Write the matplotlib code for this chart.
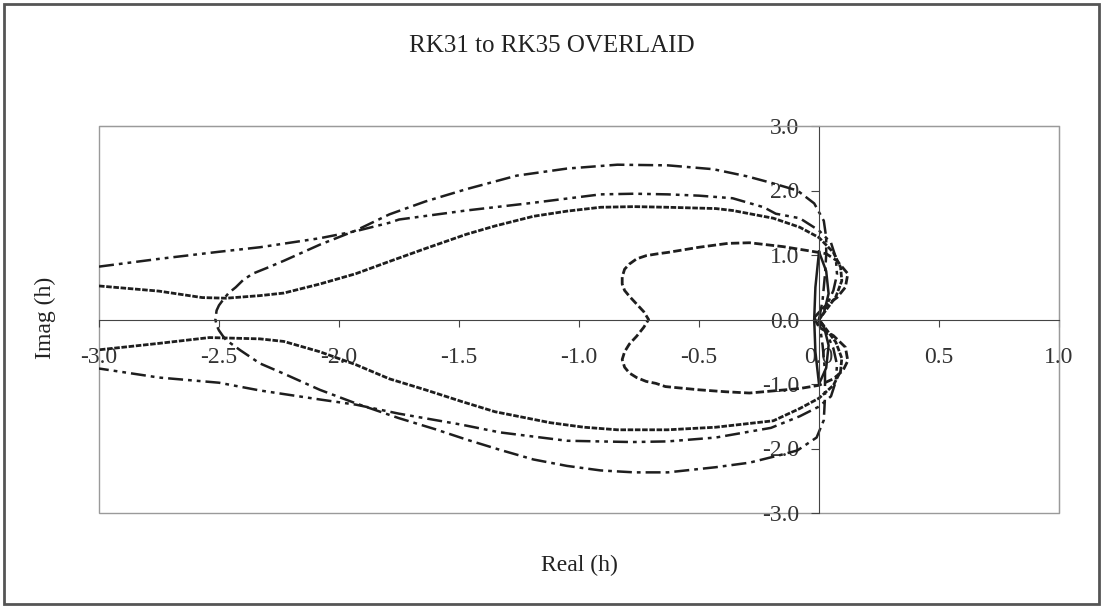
import matplotlib.pyplot as plt
from matplotlib.patches import Rectangle

plt.rcParams['font.family'] = ['Liberation Serif', 'DejaVu Serif']

# stability boundaries (real, imag)
rk31_re = [0.0, 0.015, 0.025, 0.03, 0.03, 0.02, -0.02, -0.09, -0.2, -0.3, -0.44, -0.63, -0.84, -1.05,
           -1.26, -1.47, -1.64, -1.79, -1.93, -2.08, -2.23, -2.30, -2.36, -2.40, -2.43, -2.46,
           -2.48, -2.50, -2.51, -2.515, -2.51, -2.50, -2.485, -2.47, -2.44, -2.41, -2.37, -2.33,
           -2.23, -2.08, -1.93, -1.75, -1.6, -1.47, -1.33, -1.19, -1.05, -0.91, -0.77, -0.63,
           -0.43, -0.29, -0.16, -0.09, -0.01, 0.02, 0.025, 0.025, 0.015, 0.0]
rk31_im = [0.0, 0.3, 0.7, 1.0, 1.27, 1.53, 1.80, 2.0, 2.12, 2.22, 2.33, 2.39, 2.40, 2.34,
           2.23, 2.02, 1.83, 1.63, 1.38, 1.16, 0.91, 0.80, 0.71, 0.61, 0.50, 0.41,
           0.32, 0.22, 0.14, 0.0, -0.09, -0.17, -0.25, -0.32, -0.40, -0.48, -0.58, -0.68,
           -0.84, -1.09, -1.30, -1.53, -1.70, -1.86, -2.02, -2.17, -2.27, -2.34, -2.37, -2.37,
           -2.29, -2.22, -2.10, -2.03, -1.83, -1.56, -1.2, -0.8, -0.4, 0.0]

rk32_re = [-3.0, -2.75, -2.5, -2.33, -2.08, -1.93, -1.79, -1.75, -1.47, -1.19, -0.91, -0.77, -0.63,
           -0.5, -0.36, -0.23, -0.18, -0.08, 0.0, 0.05, 0.07, 0.075, 0.06, 0.03, 0.0,
           0.03, 0.06, 0.075, 0.07, 0.05, 0.0, -0.08, -0.2, -0.43, -0.63, -0.78, -1.05, -1.33,
           -1.49, -1.75, -1.93, -2.08, -2.33, -2.5, -2.75, -3.0]
rk32_im = [0.82, 0.94, 1.05, 1.12, 1.26, 1.37, 1.50, 1.55, 1.69, 1.81, 1.94, 1.95, 1.94,
           1.92, 1.88, 1.74, 1.64, 1.57, 1.38, 1.19, 0.96, 0.7, 0.45, 0.2, 0.0,
           -0.2, -0.45, -0.7, -0.96, -1.19, -1.35, -1.50, -1.68, -1.83, -1.89, -1.90, -1.88, -1.75,
           -1.63, -1.46, -1.32, -1.24, -1.10, -0.98, -0.90, -0.76]

rk33_re = [-3.0, -2.75, -2.57, -2.47, -2.33, -2.23, -2.08, -1.93, -1.79, -1.64, -1.47, -1.35, -1.19,
           -1.05, -0.91, -0.77, -0.63, -0.43, -0.36, -0.19, -0.08, 0.0, 0.06, 0.09, 0.095, 0.07,
           0.03, 0.0, 0.03, 0.07, 0.095, 0.09, 0.06, 0.0, -0.08, -0.19, -0.43, -0.63, -0.84,
           -0.98, -1.12, -1.35, -1.49, -1.64, -1.79, -1.93, -2.08, -2.23, -2.33, -2.54, -2.75, -3.0]
rk33_im = [0.52, 0.44, 0.34, 0.33, 0.37, 0.41, 0.55, 0.71, 0.90, 1.10, 1.32, 1.45, 1.60,
           1.68, 1.74, 1.75, 1.74, 1.72, 1.69, 1.57, 1.43, 1.27, 1.04, 0.81, 0.6, 0.35,
           0.15, 0.0, -0.15, -0.35, -0.6, -0.8, -1.02, -1.22, -1.38, -1.57, -1.67, -1.71, -1.71,
           -1.67, -1.60, -1.43, -1.27, -1.09, -0.92, -0.70, -0.50, -0.34, -0.30, -0.28, -0.37, -0.47]

rk34_re = [-0.02, 0.02, 0.075, 0.11, 0.12, 0.075, 0.03, -0.05, -0.15, -0.29, -0.38, -0.5, -0.63,
           -0.67, -0.72, -0.76, -0.79, -0.81, -0.82, -0.82, -0.81, -0.79, -0.76, -0.73, -0.71,
           -0.73, -0.76, -0.79, -0.81, -0.82, -0.81, -0.79, -0.76, -0.72, -0.68, -0.64, -0.5,
           -0.39, -0.29, -0.08, 0.0, 0.06, 0.10, 0.12, 0.11, 0.06, 0.0, -0.02]
rk34_im = [0.03, 0.19, 0.34, 0.5, 0.71, 0.91, 1.02, 1.07, 1.13, 1.19, 1.18, 1.12, 1.04,
           1.02, 0.99, 0.94, 0.86, 0.78, 0.66, 0.55, 0.45, 0.36, 0.24, 0.12, 0.0,
           -0.12, -0.26, -0.38, -0.50, -0.62, -0.74, -0.83, -0.90, -0.96, -0.99, -1.04, -1.09,
           -1.12, -1.14, -1.07, -1.02, -0.92, -0.79, -0.64, -0.43, -0.25, -0.12, 0.03]

rk35_re = [0.0, -0.015, -0.02, -0.015, 0.0, 0.03, 0.04, 0.02, 0.0, 0.02, 0.04, 0.03, 0.0]
rk35_im = [1.05, 0.5, 0.0, -0.5, -1.0, -0.75, -0.4, -0.1, 0.0, 0.1, 0.4, 0.75, 1.05]

xticks = [-3.0, -2.5, -2.0, -1.5, -1.0, -0.5, 0.0, 0.5, 1.0]
yticks = [-3.0, -2.0, -1.0, 0.0, 1.0, 2.0, 3.0]

fig = plt.figure(figsize=(11.03, 6.08), dpi=100)
ax = fig.add_axes([99/1103, 1-513/608, 960/1103, 387/608])

ink = '#1e1e1e'
ax.plot(rk31_re, rk31_im, color=ink, lw=1.8, ls=(0, (6, 2, 1.5, 2)))
ax.plot(rk32_re, rk32_im, color=ink, lw=1.8, ls=(0, (6, 2, 1.5, 2, 1.5, 2)))
ax.plot(rk33_re, rk33_im, color=ink, lw=2.0, ls=(0, (2, 0.6)))
ax.plot(rk34_re, rk34_im, color=ink, lw=2.0, ls=(0, (3, 1.2)))
ax.plot(rk35_re, rk35_im, color=ink, lw=1.8)

ax.set_xlim(-3, 1)
ax.set_ylim(-3, 3)
ax.spines['left'].set_position(('data', 0))
ax.spines['bottom'].set_position(('data', 0))
ax.spines['left'].set_color('#444444')
ax.spines['bottom'].set_color('#444444')
ax.spines['top'].set_color('#9a9a9a')
ax.spines['right'].set_color('#9a9a9a')
ax.add_patch(Rectangle((0, 0), 1, 1, transform=ax.transAxes, fill=False,
                       ec='#9a9a9a', lw=1, clip_on=False))

ax.set_xticks(xticks)
ax.set_xticklabels(['%.1f' % v for v in xticks])
ax.set_yticks(yticks)
ax.set_yticklabels(['%.1f' % v for v in yticks])
ax.tick_params(axis='x', direction='out', length=5, pad=15, labelsize=17,
               color='#444444', labelcolor='#333333')
ax.tick_params(axis='y', direction='out', length=6, pad=8, labelsize=17,
               color='#444444', labelcolor='#333333')

fig.text(0.5, 1-46/608, 'RK31 to RK35 OVERLAID', ha='center', va='center',
         fontsize=18, color='#222222')
fig.text(579/1103, 1-565/608, 'Real (h)', ha='center', va='center',
         fontsize=17, color='#222222')
fig.text(45/1103, 1-318/608, 'Imag (h)', ha='center', va='center',
         rotation=90, fontsize=17, color='#222222')

fig.add_artist(Rectangle((4/1103, 4/608), 1095/1103, 600/608, transform=fig.transFigure,
                         fill=False, ec='#555555', lw=2))

plt.savefig('out.png', dpi=100)
